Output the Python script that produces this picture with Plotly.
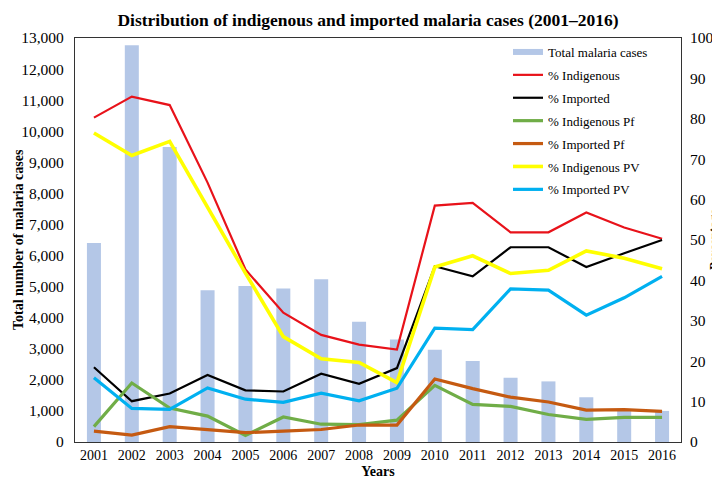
import plotly.graph_objects as go

years = [str(y) for y in range(2001, 2017)]
total_cases = [6400, 12770, 9490, 4880, 5020, 4940, 5240, 3870, 3300, 2970, 2610, 2070, 1950, 1440, 1030, 1000]
pct_indigenous = [80.3, 85.5, 83.4, 64.2, 42.7, 32.0, 26.5, 24.1, 22.9, 58.5, 59.2, 51.9, 51.9, 56.8, 53.1, 50.3]
pct_imported = [18.5, 10.1, 12.0, 16.6, 12.8, 12.5, 16.9, 14.4, 18.3, 43.5, 41.0, 48.2, 48.2, 43.3, 46.7, 50.0]
pct_indigenous_pf = [3.8, 14.6, 8.4, 6.4, 1.6, 6.2, 4.4, 4.3, 5.4, 14.0, 9.3, 8.8, 6.8, 5.6, 6.1, 6.1]
pct_imported_pf = [2.7, 1.7, 3.8, 3.1, 2.3, 2.7, 3.1, 4.2, 4.2, 15.6, 13.2, 11.1, 9.9, 7.9, 8.0, 7.6]
pct_indigenous_pv = [76.5, 70.9, 74.4, 58.2, 41.8, 26.1, 20.6, 19.7, 14.7, 43.3, 46.1, 41.7, 42.5, 47.3, 45.5, 42.9]
pct_imported_pv = [15.9, 8.3, 8.1, 13.4, 10.6, 9.8, 12.1, 10.2, 13.3, 28.2, 27.8, 37.9, 37.6, 31.4, 35.7, 41.0]

bar_color = "#B4C7E7"
font_family = "Liberation Serif"

L, R, T, B = 67, 47, 30, 44
W, H = 720, 481
pw = W - L - R
ph = H - T - B

fig = go.Figure()
fig.add_trace(go.Bar(x=years, y=total_cases, name="Total malaria cases",
                     marker=dict(color=bar_color, line=dict(width=0)),
                     width=0.37, showlegend=False, yaxis="y"))
# legend entry for bars as a thick line
fig.add_trace(go.Scatter(x=[None], y=[None], mode="lines", name="Total malaria cases",
                         line=dict(color=bar_color, width=6), yaxis="y2", legendgroup="g0"))

series = [
    ("% Indigenous", pct_indigenous, "#E8121A", 2.2),
    ("% Imported", pct_imported, "#000000", 2.2),
    ("% Indigenous Pf", pct_indigenous_pf, "#70AD47", 3.2),
    ("% Imported Pf", pct_imported_pf, "#C55A11", 3.2),
    ("% Indigenous PV", pct_indigenous_pv, "#FFFF00", 3.6),
    ("% Imported PV", pct_imported_pv, "#00B0F0", 3.2),
]
for i, (name, vals, col, w) in enumerate(series):
    fig.add_trace(go.Scatter(x=years, y=vals, mode="lines", name=name,
                             line=dict(color=col, width=w), yaxis="y2",
                             legendgroup="g%d" % (i + 1)))

fig.update_layout(
    width=W, height=H,
    margin=dict(l=L, r=R, t=T, b=B),
    paper_bgcolor="white", plot_bgcolor="white",
    font=dict(family=font_family, size=14, color="black"),
    title=dict(text="<b>Distribution of indigenous and imported malaria cases (2001–2016)</b>",
               x=0.5, xanchor="center", yref="container", y=1 - 12 / H, yanchor="middle",
               font=dict(family=font_family, size=17.5, color="black")),
    xaxis=dict(type="category", showline=True, linecolor="#333", linewidth=1.2, mirror=True,
               ticks="", showgrid=False, tickfont=dict(size=14),
               title=dict(text="<b>Years</b>", standoff=4, font=dict(size=14))),
    yaxis=dict(range=[0, 13000], dtick=1000, tickformat=",d", showgrid=False,
               showline=True, linecolor="#333", linewidth=1.2, mirror=True, ticks="",
               zeroline=False, automargin=False, tickfont=dict(size=15.5),
               ticklabelstandoff=7),
    yaxis2=dict(range=[0, 100], dtick=10, overlaying="y", side="right", showgrid=False,
                showline=False, ticks="", zeroline=False, automargin=False,
                tickfont=dict(size=15.5), ticklabelstandoff=8),
    legend=dict(x=(500 - L) / pw, y=1 - (29 - T) / ph, xanchor="left", yanchor="top",
                bgcolor="rgba(0,0,0,0)",
                font=dict(family=font_family, size=13), itemwidth=30,
                tracegroupgap=3, traceorder="grouped"),
    annotations=[
        dict(text="<b>Total number of malaria cases</b>", xref="paper", yref="paper",
             x=(10 - L) / pw, y=0.5, textangle=-90, showarrow=False,
             xanchor="center", yanchor="middle", font=dict(size=14)),
        dict(text="<b>Percentage</b>", xref="paper", yref="paper",
             x=(705 - L) / pw, y=0.5, textangle=-90, showarrow=False,
             xanchor="center", yanchor="middle", font=dict(size=13)),
    ],
)

fig.write_html("out.html")
